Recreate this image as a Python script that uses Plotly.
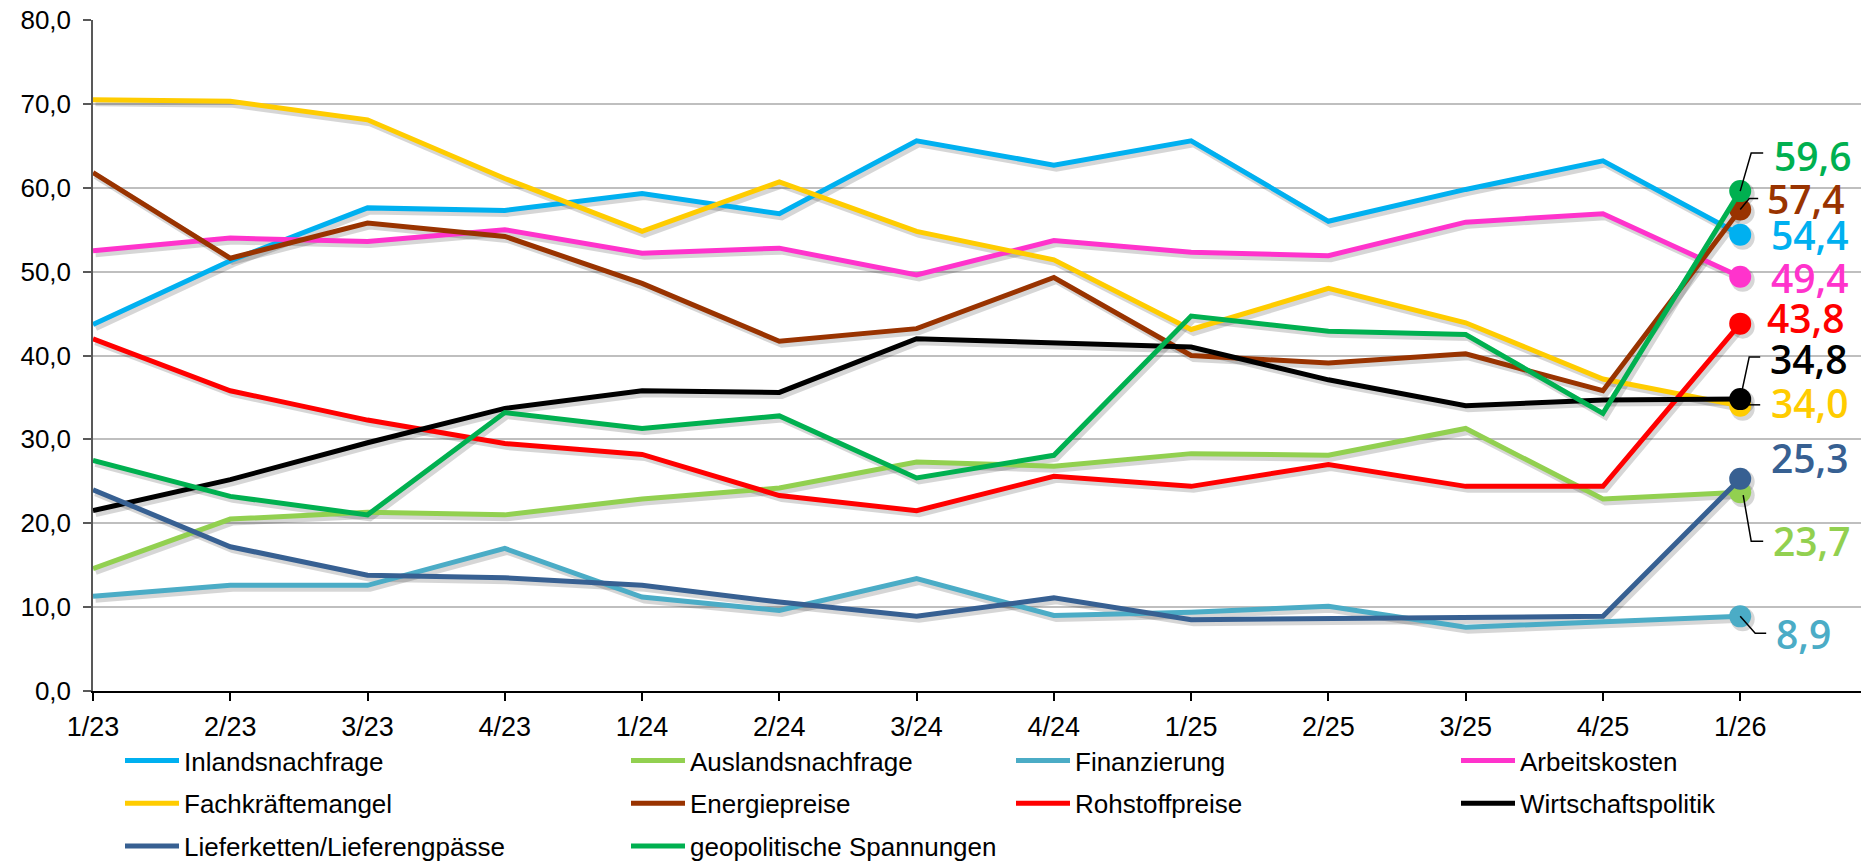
import plotly.graph_objects as go

# ---------------- data ----------------
quarters = ["1/23", "2/23", "3/23", "4/23", "1/24", "2/24", "3/24", "4/24",
            "1/25", "2/25", "3/25", "4/25", "1/26"]

inlandsnachfrage = [43.7, 51.3, 57.6, 57.3, 59.3, 56.9, 65.6, 62.7, 65.6, 56.0, 59.8, 63.2, 54.4]
auslandsnachfrage = [14.6, 20.5, 21.3, 21.0, 22.9, 24.2, 27.3, 26.8, 28.3, 28.1, 31.3, 22.9, 23.7]
finanzierung = [11.3, 12.6, 12.6, 17.0, 11.2, 9.6, 13.4, 9.0, 9.4, 10.1, 7.6, 8.3, 8.9]
arbeitskosten = [52.5, 54.0, 53.6, 55.0, 52.2, 52.8, 49.6, 53.7, 52.3, 51.9, 55.9, 56.9, 49.4]
fachkraeftemangel = [70.5, 70.3, 68.1, 61.1, 54.8, 60.7, 54.8, 51.4, 43.1, 48.0, 43.9, 37.2, 34.0]
energiepreise = [61.8, 51.6, 55.8, 54.2, 48.6, 41.7, 43.2, 49.3, 40.0, 39.1, 40.2, 35.8, 57.4]
rohstoffpreise = [42.0, 35.8, 32.3, 29.5, 28.2, 23.3, 21.5, 25.6, 24.4, 27.0, 24.4, 24.4, 43.8]
wirtschaftspolitik = [21.5, 25.2, 29.6, 33.7, 35.8, 35.6, 42.0, 41.5, 41.0, 37.1, 34.0, 34.7, 34.8]
lieferketten = [24.0, 17.2, 13.8, 13.5, 12.6, 10.6, 8.9, 11.1, 8.5, 8.6, 8.7, 8.9, 25.3]
geopolitik = [27.5, 23.2, 21.0, 33.2, 31.3, 32.8, 25.4, 28.1, 44.7, 42.9, 42.5, 33.1, 59.6]

y_ticks = [0, 10, 20, 30, 40, 50, 60, 70, 80]

series_names = ["Inlandsnachfrage", "Auslandsnachfrage", "Finanzierung", "Arbeitskosten",
                "Fachkräftemangel", "Energiepreise", "Rohstoffpreise", "Wirtschaftspolitik",
                "Lieferketten/Lieferengpässe", "geopolitische Spannungen"]
series_values = [inlandsnachfrage, auslandsnachfrage, finanzierung, arbeitskosten,
                 fachkraeftemangel, energiepreise, rohstoffpreise, wirtschaftspolitik,
                 lieferketten, geopolitik]

# ---------------- styles ----------------
colors = ["#00B0F0", "#92D050", "#4BACC6", "#FF33CC", "#FFCC00",
          "#993300", "#FF0000", "#000000", "#376092", "#00B050"]
legend_of = ["legend", "legend2", "legend3", "legend4",
             "legend", "legend2", "legend3", "legend4",
             "legend", "legend2"]
# end-label placement: (x offset of text left edge, y offset of text centre) in px
label_offset = [(31, 0), (33, -48), (36, -17), (31, -1), (31, 3),
                (27, 11), (27, 6), (30, 41), (31, 21), (34, 36)]
# leader lines in px relative to end point (up = positive)
leaders = {
    9: "M0,0 L11,38 L23,38",
    5: "M0,0 L9,11 L18,11",
    7: "M0,0 L9,42 L20,42",
    4: "M0,1 L20,1",
    1: "M3,-3 L11,-49 L23,-49",
    2: "M0,0 L15,-17 L26,-17",
}

xs = list(range(len(quarters)))
x_max = 12.88
y_max = 80
px_per_x = (1865 - 93 - 4) / x_max
px_per_y = (864 - 20 - 173) / y_max
shadow_dx, shadow_dy = 2.5, 3.0
shadow_col = "rgba(0,0,0,0.16)"

fig = go.Figure()

# shadows (base axes, shifted range)
for vals in series_values:
    fig.add_trace(go.Scatter(
        x=xs, y=vals, mode="lines", xaxis="x", yaxis="y",
        line=dict(color=shadow_col, width=7),
        showlegend=False, hoverinfo="skip"))
    fig.add_trace(go.Scatter(
        x=[xs[-1]], y=[vals[-1]], mode="markers", xaxis="x", yaxis="y",
        marker=dict(color=shadow_col, size=24),
        showlegend=False, hoverinfo="skip", cliponaxis=False))

# real series (overlay axes)
for i, (name, vals) in enumerate(zip(series_names, series_values)):
    fig.add_trace(go.Scatter(
        x=xs, y=vals, mode="lines", name=name, xaxis="x2", yaxis="y2",
        line=dict(color=colors[i], width=5),
        legend=legend_of[i], legendgroup=name, hoverinfo="skip"))
    fig.add_trace(go.Scatter(
        x=[xs[-1]], y=[vals[-1]], mode="markers", xaxis="x2", yaxis="y2",
        marker=dict(color=colors[i], size=22),
        showlegend=False, hoverinfo="skip", cliponaxis=False))

annotations = []
shapes = []
for i, vals in enumerate(series_values):
    dx, dy = label_offset[i]
    annotations.append(dict(
        x=xs[-1], y=vals[-1], xref="x2", yref="y2",
        text=f"{vals[-1]:.1f}".replace(".", ","),
        showarrow=False, xanchor="left", yanchor="middle",
        xshift=dx - 1, yshift=dy, borderpad=0,
        font=dict(family="Open Sans", size=39, color=colors[i], weight=600)))
    if i in leaders:
        shapes.append(dict(
            type="path", xref="x2", yref="y2",
            xsizemode="pixel", ysizemode="pixel",
            xanchor=xs[-1], yanchor=vals[-1],
            path=leaders[i], layer="above",
            line=dict(color="black", width=1.5)))

tick_font_y = dict(family="Liberation Sans, Arial, sans-serif", size=26, color="black")
tick_font_x = dict(family="Liberation Sans, Arial, sans-serif", size=27, color="black")

fig.update_layout(
    width=1865, height=864,
    margin=dict(l=93, r=4, t=20, b=173, autoexpand=False),
    paper_bgcolor="white", plot_bgcolor="rgba(0,0,0,0)",
    separators=", ",
    xaxis=dict(range=[0 - shadow_dx / px_per_x, x_max - shadow_dx / px_per_x],
               visible=False, fixedrange=True),
    yaxis=dict(range=[0 + shadow_dy / px_per_y, y_max + shadow_dy / px_per_y],
               visible=False, fixedrange=True),
    xaxis2=dict(range=[0, x_max], overlaying="x", tickmode="array",
                tickvals=xs, ticktext=quarters, showgrid=False, zeroline=False,
                showline=True, linecolor="black", linewidth=1.5,
                ticks="outside", ticklen=8, tickcolor="black", tickwidth=1.5,
                tickfont=tick_font_x, ticklabelstandoff=3, fixedrange=True),
    yaxis2=dict(range=[0, y_max], overlaying="y", tickmode="array",
                tickvals=y_ticks, tickformat=".1f", showgrid=True,
                gridcolor="#BFBFBF", gridwidth=2, zeroline=False,
                showline=True, linecolor="#595959", linewidth=1.5,
                ticks="outside", ticklen=8, tickcolor="#595959", tickwidth=1.5,
                tickfont=tick_font_y, ticklabelstandoff=7, fixedrange=True),
    annotations=annotations,
    shapes=shapes,
    showlegend=True,
)

legend_common = dict(
    orientation="v", xref="container", yref="container",
    xanchor="left", yanchor="top", bgcolor="rgba(0,0,0,0)",
    font=dict(family="Liberation Sans, Arial, sans-serif", size=26, color="black"),
    tracegroupgap=6, traceorder="grouped", itemwidth=54,
)
legend_x_px = [120, 626, 1011, 1456]
legend_top_px = 737
for key, xp in zip(["legend", "legend2", "legend3", "legend4"], legend_x_px):
    fig.update_layout({key: dict(legend_common, x=xp / 1865, y=1 - legend_top_px / 864)})

fig.write_html(
    "out.html",
    config={"displayModeBar": False},
    post_script="document.body.style.margin='0';document.body.style.overflow='hidden';",
)
